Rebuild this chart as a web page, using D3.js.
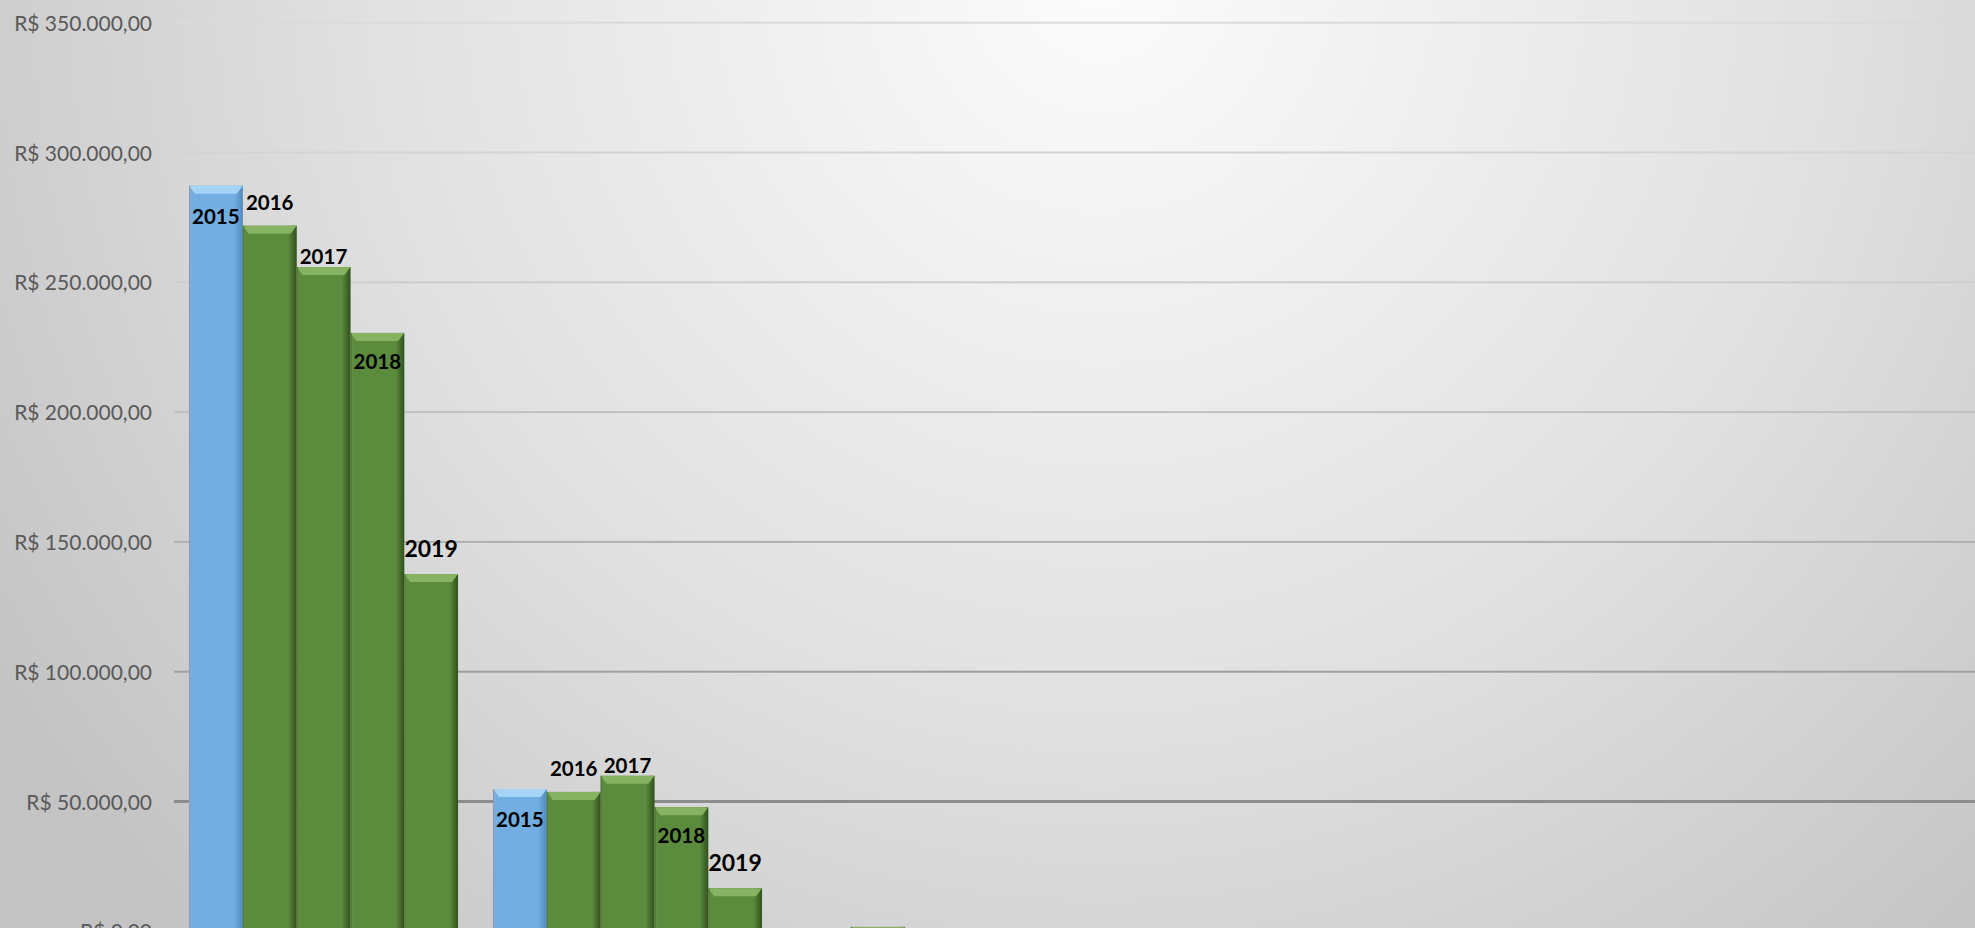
<!DOCTYPE html>
<html>
<head>
<meta charset="utf-8">
<script src="https://cdn.jsdelivr.net/npm/d3@7"></script>
<style>
  html, body { margin: 0; padding: 0; background: #d8d8d8; }
  svg { display: block; font-family: Lato, "Open Sans", sans-serif; }
</style>
</head>
<body>
<svg id="chart"></svg>
<script>
// ---------- data ----------
var categories = ["Grupo 1", "Grupo 2", "Grupo 3", "Grupo 4", "Grupo 5", "Grupo 6"];
var years = ["2015", "2016", "2017", "2018", "2019"];

var v2015 = [287200, 54800, 0, 0, 0, 0];
var v2016 = [271800, 53700, 1700, 0, 0, 0];
var v2017 = [255900, 59900, 0, 0, 0, 0];
var v2018 = [230500, 47800, 0, 0, 0, 0];
var v2019 = [137600, 16600, 0, 0, 0, 0];

var tickValues = [0, 50000, 100000, 150000, 200000, 250000, 300000, 350000];
var labelledCategories = ["Grupo 1", "Grupo 2"];

var seriesValues = { "2015": v2015, "2016": v2016, "2017": v2017, "2018": v2018, "2019": v2019 };

// ---------- styling ----------
var width = 1975, height = 928;
var colors = { "2015": "#72aee1", "2016": "#5b8b3c", "2017": "#5b8b3c", "2018": "#5b8b3c", "2019": "#5b8b3c" };
var topColors = { "2015": "#a6d4f7", "2016": "#86b362", "2017": "#86b362", "2018": "#86b362", "2019": "#86b362" };
var edgeColors = { "2015": "#4f86b8", "2016": "#2c4a1b", "2017": "#2c4a1b", "2018": "#2c4a1b", "2019": "#2c4a1b" };
// baseline of the year label, measured from the top of its bar (positive = inside)
var labelShift = { "2015": 38, "2016": -16, "2017": -3, "2018": 36, "2019": -17 };
var labelSize = { "2015": 20.5, "2016": 20.5, "2017": 20.5, "2018": 20.5, "2019": 23 };

var svg = d3.select("#chart").attr("width", width).attr("height", height);
var defs = svg.append("defs");

// background: light spot at the top, grey towards the edges
var bg = defs.append("radialGradient").attr("id", "bg")
    .attr("gradientUnits", "userSpaceOnUse")
    .attr("cx", 1100).attr("cy", -20).attr("r", 1320);
bg.append("stop").attr("offset", 0).attr("stop-color", "#fcfcfc");
bg.append("stop").attr("offset", 0.55).attr("stop-color", "#e1e1e1");
bg.append("stop").attr("offset", 1).attr("stop-color", "#c3c3c3");
svg.append("rect").attr("width", width).attr("height", height).attr("fill", "url(#bg)");

// scales
var y = d3.scaleLinear().domain([0, 350000]).range([931.3, 22.7]);
var x0 = d3.scaleBand().domain(categories)
    .range([171.5, 171.5 + 304 * categories.length])
    .paddingInner(0.115).paddingOuter(0.0575);
var x1 = d3.scaleBand().domain(years).range([0, x0.bandwidth()]).padding(0);

// gridlines get darker towards the bottom
var gridGrad = defs.append("linearGradient").attr("id", "gridGrad")
    .attr("gradientUnits", "userSpaceOnUse")
    .attr("x1", 0).attr("x2", 0).attr("y1", y(350000)).attr("y2", y(0));
[[0, "#dadada"], [0.29, "#cdcdcd"], [0.43, "#c0c0c0"], [0.57, "#b0b0b0"], [0.71, "#a0a0a0"], [0.86, "#8c8c8c"], [1, "#808080"]]
    .forEach(function (s) {
        gridGrad.append("stop").attr("offset", s[0]).attr("stop-color", s[1]);
    });

var pt = d3.formatLocale({ decimal: ",", thousands: ".", grouping: [3], currency: ["R$ ", ""] });
var fmt = pt.format("$,.2f");

var grid = svg.append("g").attr("class", "grid");
grid.selectAll("rect")
    .data(tickValues)
    .enter().append("rect")
    .attr("x", 174)
    .attr("width", width - 174)
    .attr("y", function (d) { return y(d) - (d === 50000 ? 1.5 : 1); })
    .attr("height", function (d) { return d === 50000 ? 3 : 2; })
    .attr("fill", "url(#gridGrad)");

// y axis (labels only)
var yAxis = d3.axisLeft(y).tickValues(tickValues).tickFormat(fmt).tickSize(0).tickPadding(0);
var ag = svg.append("g").attr("transform", "translate(152,0)").call(yAxis);
ag.select(".domain").remove();
ag.selectAll("text")
    .attr("font-family", "Lato, 'Open Sans', sans-serif")
    .attr("font-size", "21px")
    .attr("fill", "#595959")
    .attr("dy", "0.36em");

// per-series gradients for the side shading
years.forEach(function (yr) {
    var g = defs.append("linearGradient").attr("id", "side" + yr)
        .attr("x1", 0).attr("x2", 1).attr("y1", 0).attr("y2", 0);
    g.append("stop").attr("offset", 0).attr("stop-color", "#ffffff").attr("stop-opacity", 0.10);
    g.append("stop").attr("offset", 0.06).attr("stop-color", "#ffffff").attr("stop-opacity", 0);
    g.append("stop").attr("offset", 0.84).attr("stop-color", edgeColors[yr]).attr("stop-opacity", 0);
    g.append("stop").attr("offset", 1).attr("stop-color", edgeColors[yr]).attr("stop-opacity", 0.9);
});

var rows = [];
categories.forEach(function (c, i) {
    years.forEach(function (yr) {
        rows.push({ cat: c, year: yr, value: seriesValues[yr][i] });
    });
});

var bars = svg.append("g").attr("class", "bars")
    .selectAll("g.bar")
    .data(rows.filter(function (d) { return d.value > 0; }))
    .enter().append("g")
    .classed("bar", true);

bars.each(function (d) {
    var g = d3.select(this);
    var x = x0(d.cat) + x1(d.year);
    var w = x1.bandwidth();
    var top = y(d.value), bottom = y(0);
    var h = bottom - top;
    var bev = Math.min(8, h);

    g.append("rect")
        .attr("x", x).attr("y", top).attr("width", w).attr("height", h)
        .attr("fill", colors[d.year]);
    g.append("rect")
        .attr("x", x).attr("y", top).attr("width", w).attr("height", h)
        .attr("fill", "url(#side" + d.year + ")");
    // top bevel
    g.append("polygon")
        .attr("points", [[x, top], [x + w, top], [x + w - 6, top + bev], [x + 6, top + bev]].join(" "))
        .attr("fill", topColors[d.year]);
    // left edge
    g.append("rect")
        .attr("x", x).attr("y", top).attr("width", 1.5).attr("height", h)
        .attr("fill", d.year === "2015" ? "#8f9aa5" : "#4c7332")
        .attr("opacity", 0.8);
});

// year labels
svg.append("g").attr("class", "labels")
    .selectAll("text")
    .data(rows.filter(function (d) { return labelledCategories.indexOf(d.cat) >= 0; }))
    .enter().append("text")
    .attr("x", function (d) { return x0(d.cat) + x1(d.year) + x1.bandwidth() / 2; })
    .attr("y", function (d) { return y(d.value) + labelShift[d.year]; })
    .attr("text-anchor", "middle")
    .attr("font-weight", "bold")
    .attr("font-size", function (d) { return labelSize[d.year] + "px"; })
    .attr("fill", "#000")
    .text(function (d) { return d.year; });
</script>
</body>
</html>
